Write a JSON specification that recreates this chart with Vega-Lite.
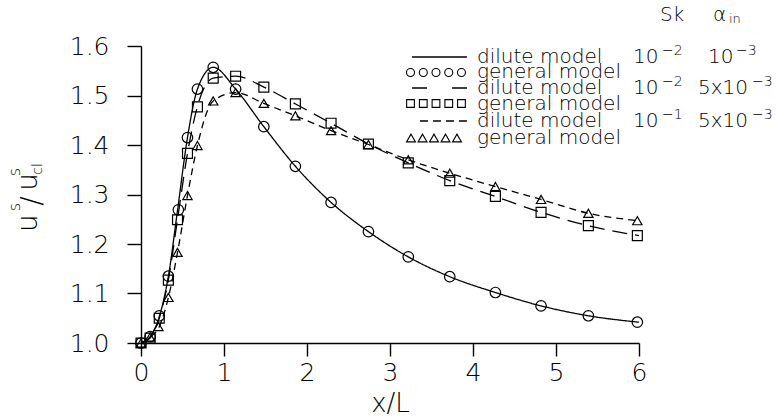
{
  "$schema": "https://vega.github.io/schema/vega-lite/v6.json",
  "width": 498,
  "height": 297,
  "autosize": "none",
  "padding": {"left": 141, "top": 46, "right": 141, "bottom": 73},
  "background": "white",
  "config": {
    "view": {"stroke": null},
    "font": "DejaVu Sans",
    "text": {"font": "DejaVu Sans", "fontWeight": 200, "color": "black", "baseline": "middle", "align": "left", "fontSize": 20},
    "axis": {
      "grid": false,
      "labelFlush": false,
      "domainColor": "black",
      "domainWidth": 1.4,
      "tickColor": "black",
      "tickWidth": 1.4,
      "labelColor": "black",
      "labelFont": "DejaVu Sans",
      "labelFontWeight": 200,
      "labelFontSize": 25,
      "titleColor": "black",
      "titleFont": "DejaVu Sans",
      "titleFontWeight": 200,
      "titleFontSize": 26
    }
  },
  "datasets": {
    "dilute": [
      {"x": 0, "y": 1.0, "case": "Sk 1e-2, a 1e-3"},
      {"x": 0.11, "y": 1.013, "case": "Sk 1e-2, a 1e-3"},
      {"x": 0.22, "y": 1.053, "case": "Sk 1e-2, a 1e-3"},
      {"x": 0.33, "y": 1.135, "case": "Sk 1e-2, a 1e-3"},
      {"x": 0.44, "y": 1.268, "case": "Sk 1e-2, a 1e-3"},
      {"x": 0.56, "y": 1.415, "case": "Sk 1e-2, a 1e-3"},
      {"x": 0.68, "y": 1.513, "case": "Sk 1e-2, a 1e-3"},
      {"x": 0.87, "y": 1.557, "case": "Sk 1e-2, a 1e-3"},
      {"x": 1.14, "y": 1.513, "case": "Sk 1e-2, a 1e-3"},
      {"x": 1.48, "y": 1.437, "case": "Sk 1e-2, a 1e-3"},
      {"x": 1.86, "y": 1.357, "case": "Sk 1e-2, a 1e-3"},
      {"x": 2.29, "y": 1.284, "case": "Sk 1e-2, a 1e-3"},
      {"x": 2.74, "y": 1.225, "case": "Sk 1e-2, a 1e-3"},
      {"x": 3.22, "y": 1.174, "case": "Sk 1e-2, a 1e-3"},
      {"x": 3.72, "y": 1.134, "case": "Sk 1e-2, a 1e-3"},
      {"x": 4.27, "y": 1.102, "case": "Sk 1e-2, a 1e-3"},
      {"x": 4.82, "y": 1.075, "case": "Sk 1e-2, a 1e-3"},
      {"x": 5.39, "y": 1.055, "case": "Sk 1e-2, a 1e-3"},
      {"x": 6.0, "y": 1.042, "case": "Sk 1e-2, a 1e-3"},
      {"x": 0, "y": 1.0, "case": "Sk 1e-2, a 5e-3"},
      {"x": 0.11, "y": 1.01, "case": "Sk 1e-2, a 5e-3"},
      {"x": 0.22, "y": 1.05, "case": "Sk 1e-2, a 5e-3"},
      {"x": 0.33, "y": 1.128, "case": "Sk 1e-2, a 5e-3"},
      {"x": 0.44, "y": 1.25, "case": "Sk 1e-2, a 5e-3"},
      {"x": 0.56, "y": 1.383, "case": "Sk 1e-2, a 5e-3"},
      {"x": 0.68, "y": 1.478, "case": "Sk 1e-2, a 5e-3"},
      {"x": 0.87, "y": 1.535, "case": "Sk 1e-2, a 5e-3"},
      {"x": 1.14, "y": 1.539, "case": "Sk 1e-2, a 5e-3"},
      {"x": 1.48, "y": 1.517, "case": "Sk 1e-2, a 5e-3"},
      {"x": 1.86, "y": 1.483, "case": "Sk 1e-2, a 5e-3"},
      {"x": 2.29, "y": 1.444, "case": "Sk 1e-2, a 5e-3"},
      {"x": 2.74, "y": 1.402, "case": "Sk 1e-2, a 5e-3"},
      {"x": 3.22, "y": 1.364, "case": "Sk 1e-2, a 5e-3"},
      {"x": 3.72, "y": 1.328, "case": "Sk 1e-2, a 5e-3"},
      {"x": 4.27, "y": 1.296, "case": "Sk 1e-2, a 5e-3"},
      {"x": 4.82, "y": 1.264, "case": "Sk 1e-2, a 5e-3"},
      {"x": 5.39, "y": 1.237, "case": "Sk 1e-2, a 5e-3"},
      {"x": 6.0, "y": 1.217, "case": "Sk 1e-2, a 5e-3"},
      {"x": 0, "y": 1.0, "case": "Sk 1e-1, a 5e-3"},
      {"x": 0.11, "y": 1.012, "case": "Sk 1e-1, a 5e-3"},
      {"x": 0.22, "y": 1.033, "case": "Sk 1e-1, a 5e-3"},
      {"x": 0.33, "y": 1.092, "case": "Sk 1e-1, a 5e-3"},
      {"x": 0.44, "y": 1.183, "case": "Sk 1e-1, a 5e-3"},
      {"x": 0.56, "y": 1.298, "case": "Sk 1e-1, a 5e-3"},
      {"x": 0.68, "y": 1.399, "case": "Sk 1e-1, a 5e-3"},
      {"x": 0.87, "y": 1.489, "case": "Sk 1e-1, a 5e-3"},
      {"x": 1.14, "y": 1.506, "case": "Sk 1e-1, a 5e-3"},
      {"x": 1.48, "y": 1.484, "case": "Sk 1e-1, a 5e-3"},
      {"x": 1.86, "y": 1.459, "case": "Sk 1e-1, a 5e-3"},
      {"x": 2.29, "y": 1.429, "case": "Sk 1e-1, a 5e-3"},
      {"x": 2.74, "y": 1.401, "case": "Sk 1e-1, a 5e-3"},
      {"x": 3.22, "y": 1.37, "case": "Sk 1e-1, a 5e-3"},
      {"x": 3.72, "y": 1.343, "case": "Sk 1e-1, a 5e-3"},
      {"x": 4.27, "y": 1.316, "case": "Sk 1e-1, a 5e-3"},
      {"x": 4.82, "y": 1.29, "case": "Sk 1e-1, a 5e-3"},
      {"x": 5.39, "y": 1.262, "case": "Sk 1e-1, a 5e-3"},
      {"x": 6.0, "y": 1.247, "case": "Sk 1e-1, a 5e-3"}
    ],
    "general": [
      {"x": 0, "y": 1.0, "case": "Sk 1e-2, a 1e-3"},
      {"x": 0.11, "y": 1.013, "case": "Sk 1e-2, a 1e-3"},
      {"x": 0.22, "y": 1.055, "case": "Sk 1e-2, a 1e-3"},
      {"x": 0.33, "y": 1.135, "case": "Sk 1e-2, a 1e-3"},
      {"x": 0.45, "y": 1.269, "case": "Sk 1e-2, a 1e-3"},
      {"x": 0.56, "y": 1.415, "case": "Sk 1e-2, a 1e-3"},
      {"x": 0.68, "y": 1.513, "case": "Sk 1e-2, a 1e-3"},
      {"x": 0.87, "y": 1.557, "case": "Sk 1e-2, a 1e-3"},
      {"x": 1.14, "y": 1.513, "case": "Sk 1e-2, a 1e-3"},
      {"x": 1.48, "y": 1.437, "case": "Sk 1e-2, a 1e-3"},
      {"x": 1.86, "y": 1.357, "case": "Sk 1e-2, a 1e-3"},
      {"x": 2.29, "y": 1.284, "case": "Sk 1e-2, a 1e-3"},
      {"x": 2.74, "y": 1.225, "case": "Sk 1e-2, a 1e-3"},
      {"x": 3.22, "y": 1.174, "case": "Sk 1e-2, a 1e-3"},
      {"x": 3.72, "y": 1.134, "case": "Sk 1e-2, a 1e-3"},
      {"x": 4.27, "y": 1.102, "case": "Sk 1e-2, a 1e-3"},
      {"x": 4.82, "y": 1.075, "case": "Sk 1e-2, a 1e-3"},
      {"x": 5.39, "y": 1.055, "case": "Sk 1e-2, a 1e-3"},
      {"x": 5.98, "y": 1.042, "case": "Sk 1e-2, a 1e-3"},
      {"x": 0, "y": 1.0, "case": "Sk 1e-2, a 5e-3"},
      {"x": 0.11, "y": 1.01, "case": "Sk 1e-2, a 5e-3"},
      {"x": 0.22, "y": 1.05, "case": "Sk 1e-2, a 5e-3"},
      {"x": 0.33, "y": 1.127, "case": "Sk 1e-2, a 5e-3"},
      {"x": 0.44, "y": 1.249, "case": "Sk 1e-2, a 5e-3"},
      {"x": 0.56, "y": 1.383, "case": "Sk 1e-2, a 5e-3"},
      {"x": 0.68, "y": 1.477, "case": "Sk 1e-2, a 5e-3"},
      {"x": 0.87, "y": 1.535, "case": "Sk 1e-2, a 5e-3"},
      {"x": 1.14, "y": 1.539, "case": "Sk 1e-2, a 5e-3"},
      {"x": 1.48, "y": 1.517, "case": "Sk 1e-2, a 5e-3"},
      {"x": 1.86, "y": 1.483, "case": "Sk 1e-2, a 5e-3"},
      {"x": 2.29, "y": 1.444, "case": "Sk 1e-2, a 5e-3"},
      {"x": 2.74, "y": 1.402, "case": "Sk 1e-2, a 5e-3"},
      {"x": 3.22, "y": 1.364, "case": "Sk 1e-2, a 5e-3"},
      {"x": 3.72, "y": 1.328, "case": "Sk 1e-2, a 5e-3"},
      {"x": 4.27, "y": 1.296, "case": "Sk 1e-2, a 5e-3"},
      {"x": 4.82, "y": 1.264, "case": "Sk 1e-2, a 5e-3"},
      {"x": 5.39, "y": 1.237, "case": "Sk 1e-2, a 5e-3"},
      {"x": 5.98, "y": 1.217, "case": "Sk 1e-2, a 5e-3"},
      {"x": 0, "y": 1.0, "case": "Sk 1e-1, a 5e-3"},
      {"x": 0.11, "y": 1.012, "case": "Sk 1e-1, a 5e-3"},
      {"x": 0.21, "y": 1.033, "case": "Sk 1e-1, a 5e-3"},
      {"x": 0.33, "y": 1.092, "case": "Sk 1e-1, a 5e-3"},
      {"x": 0.44, "y": 1.183, "case": "Sk 1e-1, a 5e-3"},
      {"x": 0.56, "y": 1.298, "case": "Sk 1e-1, a 5e-3"},
      {"x": 0.68, "y": 1.399, "case": "Sk 1e-1, a 5e-3"},
      {"x": 0.87, "y": 1.489, "case": "Sk 1e-1, a 5e-3"},
      {"x": 1.14, "y": 1.506, "case": "Sk 1e-1, a 5e-3"},
      {"x": 1.48, "y": 1.484, "case": "Sk 1e-1, a 5e-3"},
      {"x": 1.86, "y": 1.459, "case": "Sk 1e-1, a 5e-3"},
      {"x": 2.29, "y": 1.429, "case": "Sk 1e-1, a 5e-3"},
      {"x": 2.74, "y": 1.401, "case": "Sk 1e-1, a 5e-3"},
      {"x": 3.22, "y": 1.37, "case": "Sk 1e-1, a 5e-3"},
      {"x": 3.72, "y": 1.343, "case": "Sk 1e-1, a 5e-3"},
      {"x": 4.27, "y": 1.316, "case": "Sk 1e-1, a 5e-3"},
      {"x": 4.82, "y": 1.29, "case": "Sk 1e-1, a 5e-3"},
      {"x": 5.39, "y": 1.262, "case": "Sk 1e-1, a 5e-3"},
      {"x": 5.98, "y": 1.247, "case": "Sk 1e-1, a 5e-3"}
    ]
  },
  "layer": [
    {
      "data": {"name": "dilute"},
      "mark": {"type": "line", "interpolate": "monotone", "color": "black", "strokeWidth": 1.3},
      "encoding": {
        "x": {"field": "x", "type": "quantitative", "scale": {"domain": [0, 6], "nice": false, "zero": false},
              "axis": {"values": [0, 1, 2, 3, 4, 5, 6], "format": "d", "tickSize": 13, "labelPadding": 4, "title": "x/L", "titlePadding": 5}},
        "y": {"field": "y", "type": "quantitative", "scale": {"domain": [1.0, 1.6], "nice": false, "zero": false},
              "axis": {"values": [1.0, 1.1, 1.2, 1.3, 1.4, 1.5, 1.6], "format": ".1f", "tickSize": 14, "labelPadding": 18, "title": null}},
        "detail": {"field": "case"},
        "strokeDash": {"field": "case", "type": "nominal", "legend": null,
          "scale": {"domain": ["Sk 1e-2, a 1e-3", "Sk 1e-2, a 5e-3", "Sk 1e-1, a 5e-3"], "range": [[1, 0], [15, 8], [7, 5]]}}
      }
    },
    {
      "data": {"name": "general"},
      "mark": {"type": "point", "filled": false, "color": "black", "strokeWidth": 1.2, "opacity": 1},
      "encoding": {
        "x": {"field": "x", "type": "quantitative"},
        "y": {"field": "y", "type": "quantitative"},
        "shape": {"field": "case", "type": "nominal", "legend": null,
          "scale": {"domain": ["Sk 1e-2, a 1e-3", "Sk 1e-2, a 5e-3", "Sk 1e-1, a 5e-3"], "range": ["circle", "square", "triangle-up"]}},
        "size": {"field": "case", "type": "nominal", "legend": null,
          "scale": {"domain": ["Sk 1e-2, a 1e-3", "Sk 1e-2, a 5e-3", "Sk 1e-1, a 5e-3"], "range": [110, 87, 90]}}
      }
    },

    {"data": {"values": [{}]}, "mark": {"type": "text", "text": "u", "angle": 270, "align": "center", "fontSize": 28},
     "encoding": {"x": {"datum": -1.349, "type": "quantitative"}, "y": {"datum": 1.2424, "type": "quantitative"}}},
    {"data": {"values": [{}]}, "mark": {"type": "text", "text": "s", "angle": 270, "align": "center", "fontSize": 16},
     "encoding": {"x": {"datum": -1.518, "type": "quantitative"}, "y": {"datum": 1.2747, "type": "quantitative"}}},
    {"data": {"values": [{}]}, "mark": {"type": "text", "text": "/", "angle": 270, "align": "center", "fontSize": 28},
     "encoding": {"x": {"datum": -1.306, "type": "quantitative"}, "y": {"datum": 1.2869, "type": "quantitative"}}},
    {"data": {"values": [{}]}, "mark": {"type": "text", "text": "u", "angle": 270, "align": "center", "fontSize": 28},
     "encoding": {"x": {"datum": -1.349, "type": "quantitative"}, "y": {"datum": 1.3253, "type": "quantitative"}}},
    {"data": {"values": [{}]}, "mark": {"type": "text", "text": "s", "angle": 270, "align": "center", "fontSize": 16},
     "encoding": {"x": {"datum": -1.518, "type": "quantitative"}, "y": {"datum": 1.3455, "type": "quantitative"}}},
    {"data": {"values": [{}]}, "mark": {"type": "text", "text": "cl", "angle": 270, "align": "center", "fontSize": 14},
     "encoding": {"x": {"datum": -1.243, "type": "quantitative"}, "y": {"datum": 1.3515, "type": "quantitative"}}},

    {"data": {"values": [{}]}, "mark": {"type": "text", "text": "Sk"},
     "encoding": {"x": {"datum": 6.253, "type": "quantitative"}, "y": {"datum": 1.6626, "type": "quantitative"}}},
    {"data": {"values": [{}]}, "mark": {"type": "text", "text": "α"},
     "encoding": {"x": {"datum": 6.892, "type": "quantitative"}, "y": {"datum": 1.6626, "type": "quantitative"}}},
    {"data": {"values": [{}]}, "mark": {"type": "text", "text": "in", "fontSize": 13},
     "encoding": {"x": {"datum": 7.084, "type": "quantitative"}, "y": {"datum": 1.6545, "type": "quantitative"}}},

    {"data": {"values": [{}]}, "mark": {"type": "rule", "color": "black", "strokeWidth": 1.3},
     "encoding": {"x": {"datum": 3.265, "type": "quantitative"}, "x2": {"datum": 3.928}, "y": {"datum": 1.5778, "type": "quantitative"}}},
    {"data": {"values": [{}]}, "mark": {"type": "rule", "color": "black", "strokeWidth": 1.3, "strokeDash": [15, 25]},
     "encoding": {"x": {"datum": 3.265, "type": "quantitative"}, "x2": {"datum": 3.928}, "y": {"datum": 1.5152, "type": "quantitative"}}},
    {"data": {"values": [{}]}, "mark": {"type": "rule", "color": "black", "strokeWidth": 1.3, "strokeDash": [8, 5]},
     "encoding": {"x": {"datum": 3.361, "type": "quantitative"}, "x2": {"datum": 3.928}, "y": {"datum": 1.4485, "type": "quantitative"}}},

    {"data": {"values": [{}]}, "mark": {"type": "point", "shape": "circle", "size": 64, "filled": false, "color": "black", "strokeWidth": 1.1, "opacity": 1},
     "encoding": {"x": {"datum": 3.247, "type": "quantitative"}, "y": {"datum": 1.5465, "type": "quantitative"}}},
    {"data": {"values": [{}]}, "mark": {"type": "point", "shape": "circle", "size": 64, "filled": false, "color": "black", "strokeWidth": 1.1, "opacity": 1},
     "encoding": {"x": {"datum": 3.401, "type": "quantitative"}, "y": {"datum": 1.5465, "type": "quantitative"}}},
    {"data": {"values": [{}]}, "mark": {"type": "point", "shape": "circle", "size": 64, "filled": false, "color": "black", "strokeWidth": 1.1, "opacity": 1},
     "encoding": {"x": {"datum": 3.554, "type": "quantitative"}, "y": {"datum": 1.5465, "type": "quantitative"}}},
    {"data": {"values": [{}]}, "mark": {"type": "point", "shape": "circle", "size": 64, "filled": false, "color": "black", "strokeWidth": 1.1, "opacity": 1},
     "encoding": {"x": {"datum": 3.708, "type": "quantitative"}, "y": {"datum": 1.5465, "type": "quantitative"}}},
    {"data": {"values": [{}]}, "mark": {"type": "point", "shape": "circle", "size": 64, "filled": false, "color": "black", "strokeWidth": 1.1, "opacity": 1},
     "encoding": {"x": {"datum": 3.861, "type": "quantitative"}, "y": {"datum": 1.5465, "type": "quantitative"}}},

    {"data": {"values": [{}]}, "mark": {"type": "point", "shape": "square", "size": 60, "filled": false, "color": "black", "strokeWidth": 1.1, "opacity": 1},
     "encoding": {"x": {"datum": 3.247, "type": "quantitative"}, "y": {"datum": 1.4838, "type": "quantitative"}}},
    {"data": {"values": [{}]}, "mark": {"type": "point", "shape": "square", "size": 60, "filled": false, "color": "black", "strokeWidth": 1.1, "opacity": 1},
     "encoding": {"x": {"datum": 3.401, "type": "quantitative"}, "y": {"datum": 1.4838, "type": "quantitative"}}},
    {"data": {"values": [{}]}, "mark": {"type": "point", "shape": "square", "size": 60, "filled": false, "color": "black", "strokeWidth": 1.1, "opacity": 1},
     "encoding": {"x": {"datum": 3.554, "type": "quantitative"}, "y": {"datum": 1.4838, "type": "quantitative"}}},
    {"data": {"values": [{}]}, "mark": {"type": "point", "shape": "square", "size": 60, "filled": false, "color": "black", "strokeWidth": 1.1, "opacity": 1},
     "encoding": {"x": {"datum": 3.708, "type": "quantitative"}, "y": {"datum": 1.4838, "type": "quantitative"}}},
    {"data": {"values": [{}]}, "mark": {"type": "point", "shape": "square", "size": 60, "filled": false, "color": "black", "strokeWidth": 1.1, "opacity": 1},
     "encoding": {"x": {"datum": 3.861, "type": "quantitative"}, "y": {"datum": 1.4838, "type": "quantitative"}}},

    {"data": {"values": [{}]}, "mark": {"type": "point", "shape": "triangle-up", "size": 80, "filled": false, "color": "black", "strokeWidth": 1.1, "opacity": 1},
     "encoding": {"x": {"datum": 3.253, "type": "quantitative"}, "y": {"datum": 1.4141, "type": "quantitative"}}},
    {"data": {"values": [{}]}, "mark": {"type": "point", "shape": "triangle-up", "size": 80, "filled": false, "color": "black", "strokeWidth": 1.1, "opacity": 1},
     "encoding": {"x": {"datum": 3.392, "type": "quantitative"}, "y": {"datum": 1.4141, "type": "quantitative"}}},
    {"data": {"values": [{}]}, "mark": {"type": "point", "shape": "triangle-up", "size": 80, "filled": false, "color": "black", "strokeWidth": 1.1, "opacity": 1},
     "encoding": {"x": {"datum": 3.53, "type": "quantitative"}, "y": {"datum": 1.4141, "type": "quantitative"}}},
    {"data": {"values": [{}]}, "mark": {"type": "point", "shape": "triangle-up", "size": 80, "filled": false, "color": "black", "strokeWidth": 1.1, "opacity": 1},
     "encoding": {"x": {"datum": 3.669, "type": "quantitative"}, "y": {"datum": 1.4141, "type": "quantitative"}}},
    {"data": {"values": [{}]}, "mark": {"type": "point", "shape": "triangle-up", "size": 80, "filled": false, "color": "black", "strokeWidth": 1.1, "opacity": 1},
     "encoding": {"x": {"datum": 3.807, "type": "quantitative"}, "y": {"datum": 1.4141, "type": "quantitative"}}},

    {"data": {"values": [{}]}, "mark": {"type": "text", "text": "dilute model"},
     "encoding": {"x": {"datum": 4.048, "type": "quantitative"}, "y": {"datum": 1.5778, "type": "quantitative"}}},
    {"data": {"values": [{}]}, "mark": {"type": "text", "text": "general model"},
     "encoding": {"x": {"datum": 4.048, "type": "quantitative"}, "y": {"datum": 1.5465, "type": "quantitative"}}},
    {"data": {"values": [{}]}, "mark": {"type": "text", "text": "dilute model"},
     "encoding": {"x": {"datum": 4.048, "type": "quantitative"}, "y": {"datum": 1.5152, "type": "quantitative"}}},
    {"data": {"values": [{}]}, "mark": {"type": "text", "text": "general model"},
     "encoding": {"x": {"datum": 4.048, "type": "quantitative"}, "y": {"datum": 1.4838, "type": "quantitative"}}},
    {"data": {"values": [{}]}, "mark": {"type": "text", "text": "dilute model"},
     "encoding": {"x": {"datum": 4.048, "type": "quantitative"}, "y": {"datum": 1.4485, "type": "quantitative"}}},
    {"data": {"values": [{}]}, "mark": {"type": "text", "text": "general model"},
     "encoding": {"x": {"datum": 4.048, "type": "quantitative"}, "y": {"datum": 1.4141, "type": "quantitative"}}},

    {"data": {"values": [{}]}, "mark": {"type": "text", "text": "10"},
     "encoding": {"x": {"datum": 5.928, "type": "quantitative"}, "y": {"datum": 1.5778, "type": "quantitative"}}},
    {"data": {"values": [{}]}, "mark": {"type": "text", "text": "−2", "fontSize": 14},
     "encoding": {"x": {"datum": 6.277, "type": "quantitative"}, "y": {"datum": 1.5899, "type": "quantitative"}}},
    {"data": {"values": [{}]}, "mark": {"type": "text", "text": "10"},
     "encoding": {"x": {"datum": 6.831, "type": "quantitative"}, "y": {"datum": 1.5778, "type": "quantitative"}}},
    {"data": {"values": [{}]}, "mark": {"type": "text", "text": "−3", "fontSize": 14},
     "encoding": {"x": {"datum": 7.169, "type": "quantitative"}, "y": {"datum": 1.5899, "type": "quantitative"}}},

    {"data": {"values": [{}]}, "mark": {"type": "text", "text": "10"},
     "encoding": {"x": {"datum": 5.928, "type": "quantitative"}, "y": {"datum": 1.5152, "type": "quantitative"}}},
    {"data": {"values": [{}]}, "mark": {"type": "text", "text": "−2", "fontSize": 14},
     "encoding": {"x": {"datum": 6.277, "type": "quantitative"}, "y": {"datum": 1.5273, "type": "quantitative"}}},
    {"data": {"values": [{}]}, "mark": {"type": "text", "text": "5x10"},
     "encoding": {"x": {"datum": 6.711, "type": "quantitative"}, "y": {"datum": 1.5152, "type": "quantitative"}}},
    {"data": {"values": [{}]}, "mark": {"type": "text", "text": "−3", "fontSize": 14},
     "encoding": {"x": {"datum": 7.361, "type": "quantitative"}, "y": {"datum": 1.5273, "type": "quantitative"}}},

    {"data": {"values": [{}]}, "mark": {"type": "text", "text": "10"},
     "encoding": {"x": {"datum": 5.928, "type": "quantitative"}, "y": {"datum": 1.4485, "type": "quantitative"}}},
    {"data": {"values": [{}]}, "mark": {"type": "text", "text": "−1", "fontSize": 14},
     "encoding": {"x": {"datum": 6.277, "type": "quantitative"}, "y": {"datum": 1.4606, "type": "quantitative"}}},
    {"data": {"values": [{}]}, "mark": {"type": "text", "text": "5x10"},
     "encoding": {"x": {"datum": 6.711, "type": "quantitative"}, "y": {"datum": 1.4485, "type": "quantitative"}}},
    {"data": {"values": [{}]}, "mark": {"type": "text", "text": "−3", "fontSize": 14},
     "encoding": {"x": {"datum": 7.361, "type": "quantitative"}, "y": {"datum": 1.4606, "type": "quantitative"}}}
  ]
}
